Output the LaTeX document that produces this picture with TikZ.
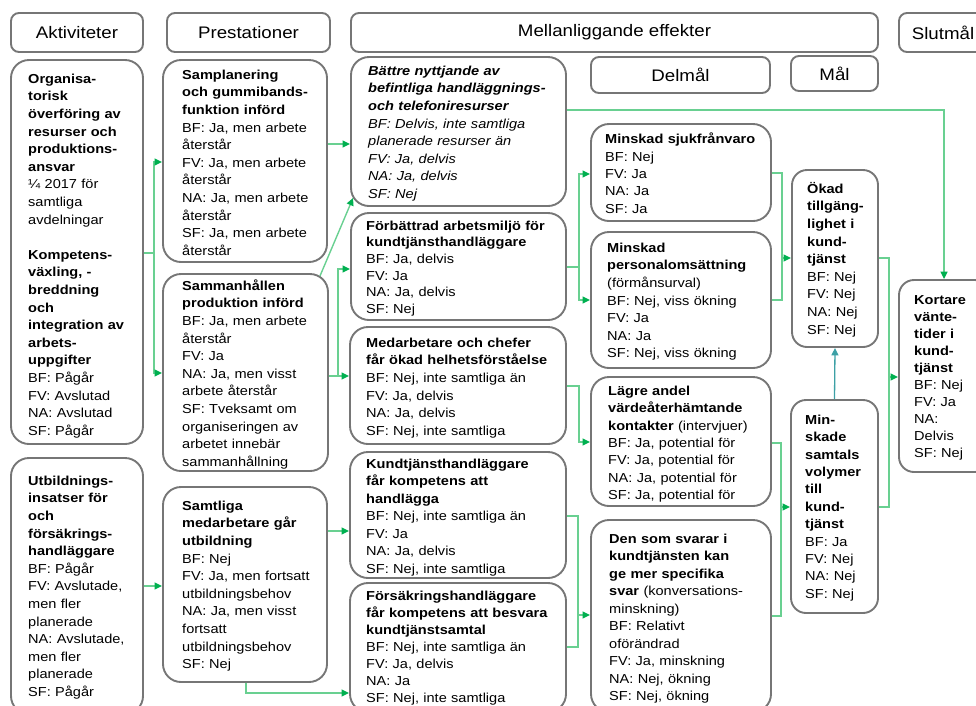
\documentclass[tikz,border=0pt]{standalone}
\usepackage{fontspec}
\setmainfont{Liberation Sans}[FakeStretch=1.12]
\usetikzlibrary{arrows.meta,calc}
\definecolor{bordergray}{RGB}{118,118,118}
\definecolor{gline}{RGB}{105,208,145}
\definecolor{garrow}{RGB}{0,176,80}
\definecolor{tealc}{RGB}{60,160,165}
\newcommand{\fl}{\rule{0pt}{12pt}}
\newcommand{\Bx}[6][18pt]{\node[box,rounded corners=#1,minimum width={#5-#3},minimum height={#6-#4}] (#2) at ({(#3+#5)/2},{(#4+#6)/2}) {};}
\newcommand{\Hd}[6]{\node[hbox,minimum width={#4-#2},minimum height={#5-#3}] (#1) at ({(#2+#4)/2},{(#3+#5)/2}) {#6};}
\newcommand{\Tx}[5][17.6]{\node[txt,font=\fontsize{13}{#1}\selectfont] (#2) at (#3,{#4-12}) {\fl #5};}
\begin{document}
\begin{tikzpicture}[x=1pt,y=-1pt,
  box/.style={draw=bordergray,line width=1.9pt,inner sep=0pt},
  hbox/.style={draw=bordergray,line width=1.9pt,rounded corners=8pt,inner sep=0pt,font=\fontsize{16.7}{20}\selectfont},
  txt/.style={anchor=north west,inner sep=0pt,align=left,text width=260pt},
  ln/.style={draw=gline,line width=1.4pt},
  ar/.style={ln,-{Triangle[length=7.5pt,width=7pt,color=garrow]}},
  tar/.style={draw=tealc,line width=1.3pt,-{Triangle[length=7.5pt,width=7pt,color=tealc]}}]
\useasboundingbox (0,0) rectangle (976,705);
% headers
\Hd{hakt}{11}{13}{143}{52}{Aktiviteter}
\Hd{hpre}{167}{13}{330}{52}{Prestationer}
\Hd{hmel}{351}{13}{878}{52}{Mellanliggande effekter}
\Hd{hslu}{899}{13}{987}{52}{Slutmål}
\Hd{hdel}{591}{57}{770}{93}{Delmål}
\Hd{hmal}{791}{56}{878}{91}{Mål}
% boxes
\Bx{org}{11}{60}{143}{444}
\Bx{utb}{11}{458}{143}{714}
\Bx{samp}{163}{60}{327}{262}
\Bx{samm}{163}{274}{328}{471}
\Bx{samtl}{163}{487}{327}{682}
\Bx{bat}{351}{57}{566}{206}
\Bx{forb}{351}{213}{566}{320}
\Bx{med}{350}{327}{566}{444}
\Bx{kund}{350}{452}{566}{578}
\Bx{fors}{350}{583}{566}{712}
\Bx{sjuk}{591}{124}{771}{221}
\Bx{pers}{591}{232}{771}{368}
\Bx{lag}{591}{377}{771}{506}
\Bx{den}{591}{520}{771}{712}
\Bx[15pt]{okad}{792}{170}{878}{347}
\Bx[15pt]{mins}{791}{400}{878}{613}
\Bx[15pt]{kort}{899}{280}{990}{472}
% connectors
\coordinate (j1) at (154,253);
\coordinate (j1a) at (154,162);
\coordinate (j1b) at (154,373);
\draw[ln] (j1 -| org.east) -- (j1);
\draw[ar] (j1) -- (j1a) -- (j1a -| samp.west);
\draw[ar] (j1) -- (j1b) -- (j1b -| samm.west);
\coordinate (j2) at (150,586);
\draw[ar] (j2 -| utb.east) -- (j2 -| samtl.west);
\coordinate (j3) at (340,144);
\draw[ar] (j3 -| samp.east) -- (j3 -| bat.west);
\draw[ar] ($(samm.north east)+(-9,3)$) -- ($(bat.south west)+(3,-9)$);
\coordinate (j5) at (338,376);
\coordinate (j5a) at (338,269);
\draw[ar] (j5 -| samm.east) -- (j5 -| med.west);
\draw[ar] (j5) -- (j5a) -- (j5a -| forb.west);
\coordinate (j6) at (340,531);
\draw[ar] (j6 -| samtl.east) -- (j6 -| kund.west);
\coordinate (j7) at (246,693);
\draw[ar] (j7 |- samtl.south) -- (j7) -- (j7 -| fors.west);
\coordinate (j8) at (944,110);
\draw[ar] (j8 -| bat.east) -- (j8) -- (j8 |- kort.north);
\coordinate (j9) at (579,267);
\coordinate (j9a) at (579,174);
\coordinate (j9b) at (579,300);
\draw[ln] (j9 -| forb.east) -- (j9);
\draw[ar] (j9) -- (j9a) -- (j9a -| sjuk.west);
\draw[ar] (j9) -- (j9b) -- (j9b -| pers.west);
\coordinate (j10a) at (579,386);
\coordinate (j10b) at (579,442);
\draw[ar] (j10a -| med.east) -- (j10a) -- (j10b) -- (j10b -| lag.west);
\coordinate (j11a) at (578,516);
\coordinate (j11b) at (578,647);
\coordinate (j11) at (578,615);
\draw[ln] (j11a -| kund.east) -- (j11a) -- (j11b) -- (j11b -| fors.east);
\draw[ar] (j11) -- (j11 -| den.west);
\coordinate (j12a) at (782,173);
\coordinate (j12b) at (782,300);
\coordinate (j12) at (782,258);
\draw[ln] (j12a -| sjuk.east) -- (j12a) -- (j12b) -- (j12b -| pers.east);
\draw[ar] (j12) -- (j12 -| okad.west);
\coordinate (j13a) at (781,443);
\coordinate (j13b) at (781,616);
\coordinate (j13) at (781,507);
\draw[ln] (j13a -| lag.east) -- (j13a) -- (j13b) -- (j13b -| den.east);
\draw[ar] (j13) -- (j13 -| mins.west);
\coordinate (j14a) at (889,258);
\coordinate (j14b) at (889,507);
\coordinate (j14) at (889,377);
\draw[ln] (j14a -| okad.east) -- (j14a) -- (j14b) -- (j14b -| mins.east);
\draw[ar] (j14) -- (j14 -| kort.west);
\draw[tar] (mins.north) -- (okad.south);
% texts
\Tx{org-t}{28}{83}{{\bfseries Organisa-\\torisk\\överföring av\\resurser och\\produktions-\\ansvar}\\¼ 2017 för\\samtliga\\avdelningar\\[17.6pt]{\bfseries Kompetens-\\växling, -\\breddning\\och\\integration av\\arbets-\\uppgifter}\\BF: Pågår\\FV: Avslutad\\NA: Avslutad\\SF: Pågår}
\Tx{utb-t}{28}{485}{{\bfseries Utbildnings-\\insatser för\\och\\försäkrings-\\handläggare}\\BF: Pågår\\FV: Avslutade,\\men fler\\planerade\\NA: Avslutade,\\men fler\\planerade\\SF: Pågår}
\Tx{samp-t}{182}{79}{{\bfseries Samplanering\\och gummibands-\\funktion införd}\\BF: Ja, men arbete\\återstår\\FV: Ja, men arbete\\återstår\\NA: Ja, men arbete\\återstår\\SF: Ja, men arbete\\återstår}
\Tx{samm-t}{182}{290}{{\bfseries Sammanhållen\\produktion införd}\\BF: Ja, men arbete\\återstår\\FV: Ja\\NA: Ja, men visst\\arbete återstår\\SF: Tveksamt om\\organiseringen av\\arbetet innebär\\sammanhållning}
\Tx{samtl-t}{182}{510}{{\bfseries Samtliga\\medarbetare går\\utbildning}\\BF: Nej\\FV: Ja, men fortsatt\\utbildningsbehov\\NA: Ja, men visst\\fortsatt\\utbildningsbehov\\SF: Nej}
\Tx{bat-t}{368}{75}{\itshape{\bfseries Bättre nyttjande av\\befintliga handläggnings-\\och telefoniresurser}\\BF: Delvis, inte samtliga\\planerade resurser än\\FV: Ja, delvis\\NA: Ja, delvis\\SF: Nej}
\Tx[16.6]{forb-t}{366}{230}{{\bfseries Förbättrad arbetsmiljö för\\kundtjänsthandläggare}\\BF: Ja, delvis\\FV: Ja\\NA: Ja, delvis\\SF: Nej}
\Tx{med-t}{366}{347}{{\bfseries Medarbetare och chefer\\får ökad helhetsförståelse}\\BF: Nej, inte samtliga än\\FV: Ja, delvis\\NA: Ja, delvis\\SF: Nej, inte samtliga}
\Tx[17.5]{kund-t}{366}{468}{{\bfseries Kundtjänsthandläggare\\får kompetens att\\handlägga}\\BF: Nej, inte samtliga än\\FV: Ja\\NA: Ja, delvis\\SF: Nej, inte samtliga}
\Tx[17]{fors-t}{366}{600}{{\bfseries Försäkringshandläggare\\får kompetens att besvara\\kundtjänstsamtal}\\BF: Nej, inte samtliga än\\FV: Ja, delvis\\NA: Ja\\SF: Nej, inte samtliga}
\Tx[17.4]{sjuk-t}{605}{143.5}{{\bfseries Minskad sjukfrånvaro}\\BF: Nej\\FV: Ja\\NA: Ja\\SF: Ja}
\Tx{pers-t}{607}{252}{{\bfseries Minskad\\personalomsättning}\\(förmånsurval)\\BF: Nej, viss ökning\\FV: Ja\\NA: Ja\\SF: Nej, viss ökning}
\Tx[17.4]{lag-t}{608}{395}{{\bfseries Lägre andel\\värdeåterhämtande\\kontakter} (intervjuer)\\BF: Ja, potential för\\FV: Ja, potential för\\NA: Ja, potential för\\SF: Ja, potential för}
\Tx[17.5]{den-t}{609}{543}{{\bfseries Den som svarar i\\kundtjänsten kan\\ge mer specifika\\svar} (konversations-\\minskning)\\BF: Relativt\\oförändrad\\FV: Ja, minskning\\NA: Nej, ökning\\SF: Nej, ökning}
\Tx{okad-t}{807}{193}{{\bfseries Ökad\\tillgäng-\\lighet i\\kund-\\tjänst}\\BF: Nej\\FV: Nej\\NA: Nej\\SF: Nej}
\Tx[17.4]{mins-t}{805}{424}{{\bfseries Min-\\skade\\samtals\\volymer\\till\\kund-\\tjänst}\\BF: Ja\\FV: Nej\\NA: Nej\\SF: Nej}
\Tx[17]{kort-t}{914}{304}{{\bfseries Kortare\\vänte-\\tider i\\kund-\\tjänst}\\BF: Nej\\FV: Ja\\NA:\\Delvis\\SF: Nej}
\end{tikzpicture}
\end{document}
